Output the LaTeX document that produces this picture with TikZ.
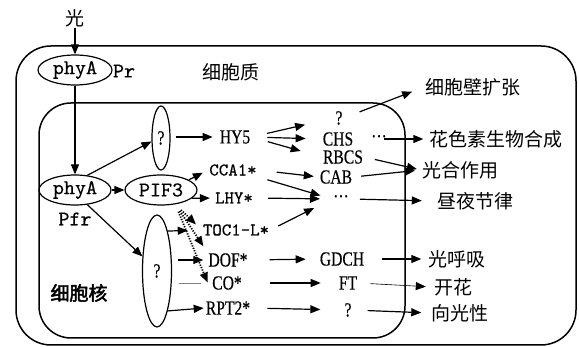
\documentclass[tikz,border=0pt]{standalone}
\usepackage{fontspec}
\setmainfont{Liberation Serif}
\newfontfamily\genefont{Liberation Serif}[FakeStretch=0.78, FakeBold=0.4]
\newfontfamily\monofont{lmmono10-regular}[Extension=.otf, FakeBold=0.5]
\newfontfamily\cjkfont{Noto Sans CJK SC}
\newfontfamily\cjkboldfont[FakeBold=2.5]{Noto Sans CJK SC}
\usetikzlibrary{arrows.meta}
\usetikzlibrary{shapes.geometric}

\begin{document}
\begin{tikzpicture}[
    x=1pt, y=-1pt,
    line join=round,
    arr/.style={line width=1.2pt, -{Triangle[length=10pt,width=8pt]}},
    thinarr/.style={line width=0.6pt, -{Triangle[length=10pt,width=8pt]}},
    dotarr/.style={line width=1.8pt, dash pattern=on 1.2pt off 1.4pt,
        -{Triangle[length=10pt,width=8pt]}},
    cellbox/.style={draw, line width=1.5pt, rounded corners=35pt},
    oval/.style={draw, ellipse, line width=1.2pt, inner sep=0pt},
    cn/.style={font=\cjkfont\fontsize{19}{21}\selectfont, inner sep=1pt},
    gene/.style={font=\genefont\fontsize{20}{22}\selectfont, inner sep=1pt},
    mono/.style={font=\monofont\fontsize{18}{20}\selectfont, inner sep=1pt},
    bigmono/.style={font=\monofont\fontsize{21}{23}\selectfont, inner sep=1pt}
]
    \useasboundingbox (0,0) rectangle (579,347);

    % cell and nucleus
    \draw[cellbox] (16,46) rectangle (576,345);
    \draw[cellbox, rounded corners=32pt] (39,103) rectangle (405,338);

    \node[cn] (guang) at (75,18) {光};
    \node[oval, bigmono, minimum width=74pt, minimum height=30pt] (phyAr) at (75,70) {phyA};
    \node[bigmono] (pr) at (124,71) {Pr};
    \node[cn] (cyto) at (231,72) {细胞质};
    \node[cn, font=\cjkboldfont\fontsize{19}{21}\selectfont] (nucleus) at (79,293) {细胞核};

    \node[oval, bigmono, minimum width=72pt, minimum height=30pt] (phyAfr) at (75,190) {phyA};
    \node[bigmono] (pfr) at (75,219) {Pfr};
    \node[oval, bigmono, minimum width=72pt, minimum height=30pt] (pif3) at (161,190) {PIF3};
    \node[oval, gene, minimum width=18pt, minimum height=64pt] (qa) at (161,138) {?};
    \node[oval, gene, minimum width=29pt, minimum height=112pt] (qc) at (157,271) {?};

    % genes
    \node[gene] (hy5) at (235,137) {HY5};
    \node[mono] (cca1) at (233,170) {CCA1*};
    \node[mono] (lhy) at (234,198) {LHY*};
    \node[mono] (toc1) at (236,230) {TOC1-L*};
    \node[gene] (dof) at (228,260) {DOF*};
    \node[gene] (co) at (227,283) {CO*};
    \node[gene] (rpt2) at (228,308) {RPT2*};

    \node[gene] (qb) at (339,118) {?};
    \node[gene] (chs) at (338,139) {CHS};
    \node[gene] (rbcs) at (343,157) {RBCS};
    \node[gene] (cab) at (336,177) {CAB};
    \node[gene] (dots1) at (379,139) {···};
    \node[gene] (dots2) at (341,199) {···};
    \node[gene] (gdch) at (342,259) {GDCH};
    \node[gene] (ft) at (348,283) {FT};
    \node[gene] (qd) at (348,310) {?};

    % responses
    \node[cn] (bihua) at (473,87) {细胞壁扩张};
    \node[cn] (huase) at (496,139) {花色素生物合成};
    \node[cn] (guanghe) at (460,170) {光合作用};
    \node[cn] (zhouye) at (475,201) {昼夜节律};
    \node[cn] (guanghx) at (457,259) {光呼吸};
    \node[cn] (kaihua) at (453,287) {开花};
    \node[cn] (xiangg) at (460,313) {向光性};

    % phytochrome
    \draw[arr] (guang) -- (phyAr.north);
    \draw[arr] (phyAr.south) -- (phyAfr.north);
    \draw[arr] (phyAfr.50) -- (qa.200);
    \draw[arr] (phyAfr.east) -- (pif3.west);
    \draw[arr] (phyAfr.-50) -- (qc.135);
    \draw[arr, shorten <=5pt, shorten >=6pt] (qa.east |- hy5.west) -- (hy5.west);
    \draw[arr, shorten >=6pt] (pif3.20) -- (cca1.west);
    \draw[arr, shorten >=4pt] (pif3.-15) -- (lhy.west);

    % dotted paths from PIF3
    \draw[dotarr, shorten <=8pt, shorten >=8pt] (pif3.-45) -- (toc1.west);
    \draw[dotarr, shorten <=8pt, shorten >=7pt] (pif3.-45) -- (dof.north west);
    \draw[dotarr, shorten <=8pt, shorten >=9pt] (pif3.-45) -- (co.south west);

    % from the lower ?
    \draw[arr, shorten >=14pt] (qc.75) -- (toc1.west);
    \draw[arr, shorten <=6pt, shorten >=4pt] (qc.east |- dof.west) -- (dof.west);
    \draw[gray, line width=0.5pt, shorten <=7pt, shorten >=10pt] (qc.east |- co.west) -- (co.west);
    \draw[arr, shorten >=1pt] (qc.-75) -- (rpt2.west);

    % HY5 targets
    \draw[arr, shorten <=16pt, shorten >=30pt] (hy5.east) -- (qb.west);
    \draw[arr, shorten <=16pt, shorten >=16pt] (hy5.east) -- (chs.west);
    \draw[arr, shorten <=17pt, shorten >=22pt] (hy5.east) -- (rbcs.west);

    % clock genes
    \draw[arr, shorten <=19pt, shorten >=5pt] (cca1.east) -- (cab.west);
    \draw[arr, shorten <=10pt, shorten >=12pt] (cca1.south east) -- (dots2.west);
    \draw[arr, shorten <=14pt, shorten >=12pt] (lhy.east) -- (dots2.west);
    \draw[arr, shorten <=9pt, shorten >=20pt] (toc1.east) -- (dots2.west);
    \draw[arr, shorten <=21pt, shorten >=13pt] (dof.east) -- (gdch.west);
    \draw[arr, shorten <=27pt, shorten >=17pt] (co.east) -- (ft.west);
    \draw[arr, shorten <=16pt, shorten >=23pt] (rpt2.east) -- (qd.west);

    % responses
    \draw[arr, shorten <=17pt, shorten >=13pt] (qb.east) -- (bihua.west);
    \draw[arr, shorten <=-4pt, shorten >=5pt] (dots1.east) -- (huase.west);
    \draw[arr, shorten <=11pt, shorten >=4pt] (rbcs.east) -- (guanghe.west);
    \draw[arr, shorten <=8pt, shorten >=6pt] (cab.east) -- (guanghe.west);
    \draw[arr, shorten <=10pt, shorten >=14pt] (dots2.east) -- (zhouye.west);
    \draw[arr, shorten <=17pt, shorten >=6pt] (gdch.east) -- (guanghx.west);
    \draw[thinarr, shorten <=12pt, shorten >=7pt] (ft.east) -- (kaihua.west);
    \draw[arr, shorten <=15pt, shorten >=9pt] (qd.east) -- (xiangg.west);

\end{tikzpicture}
\end{document}
